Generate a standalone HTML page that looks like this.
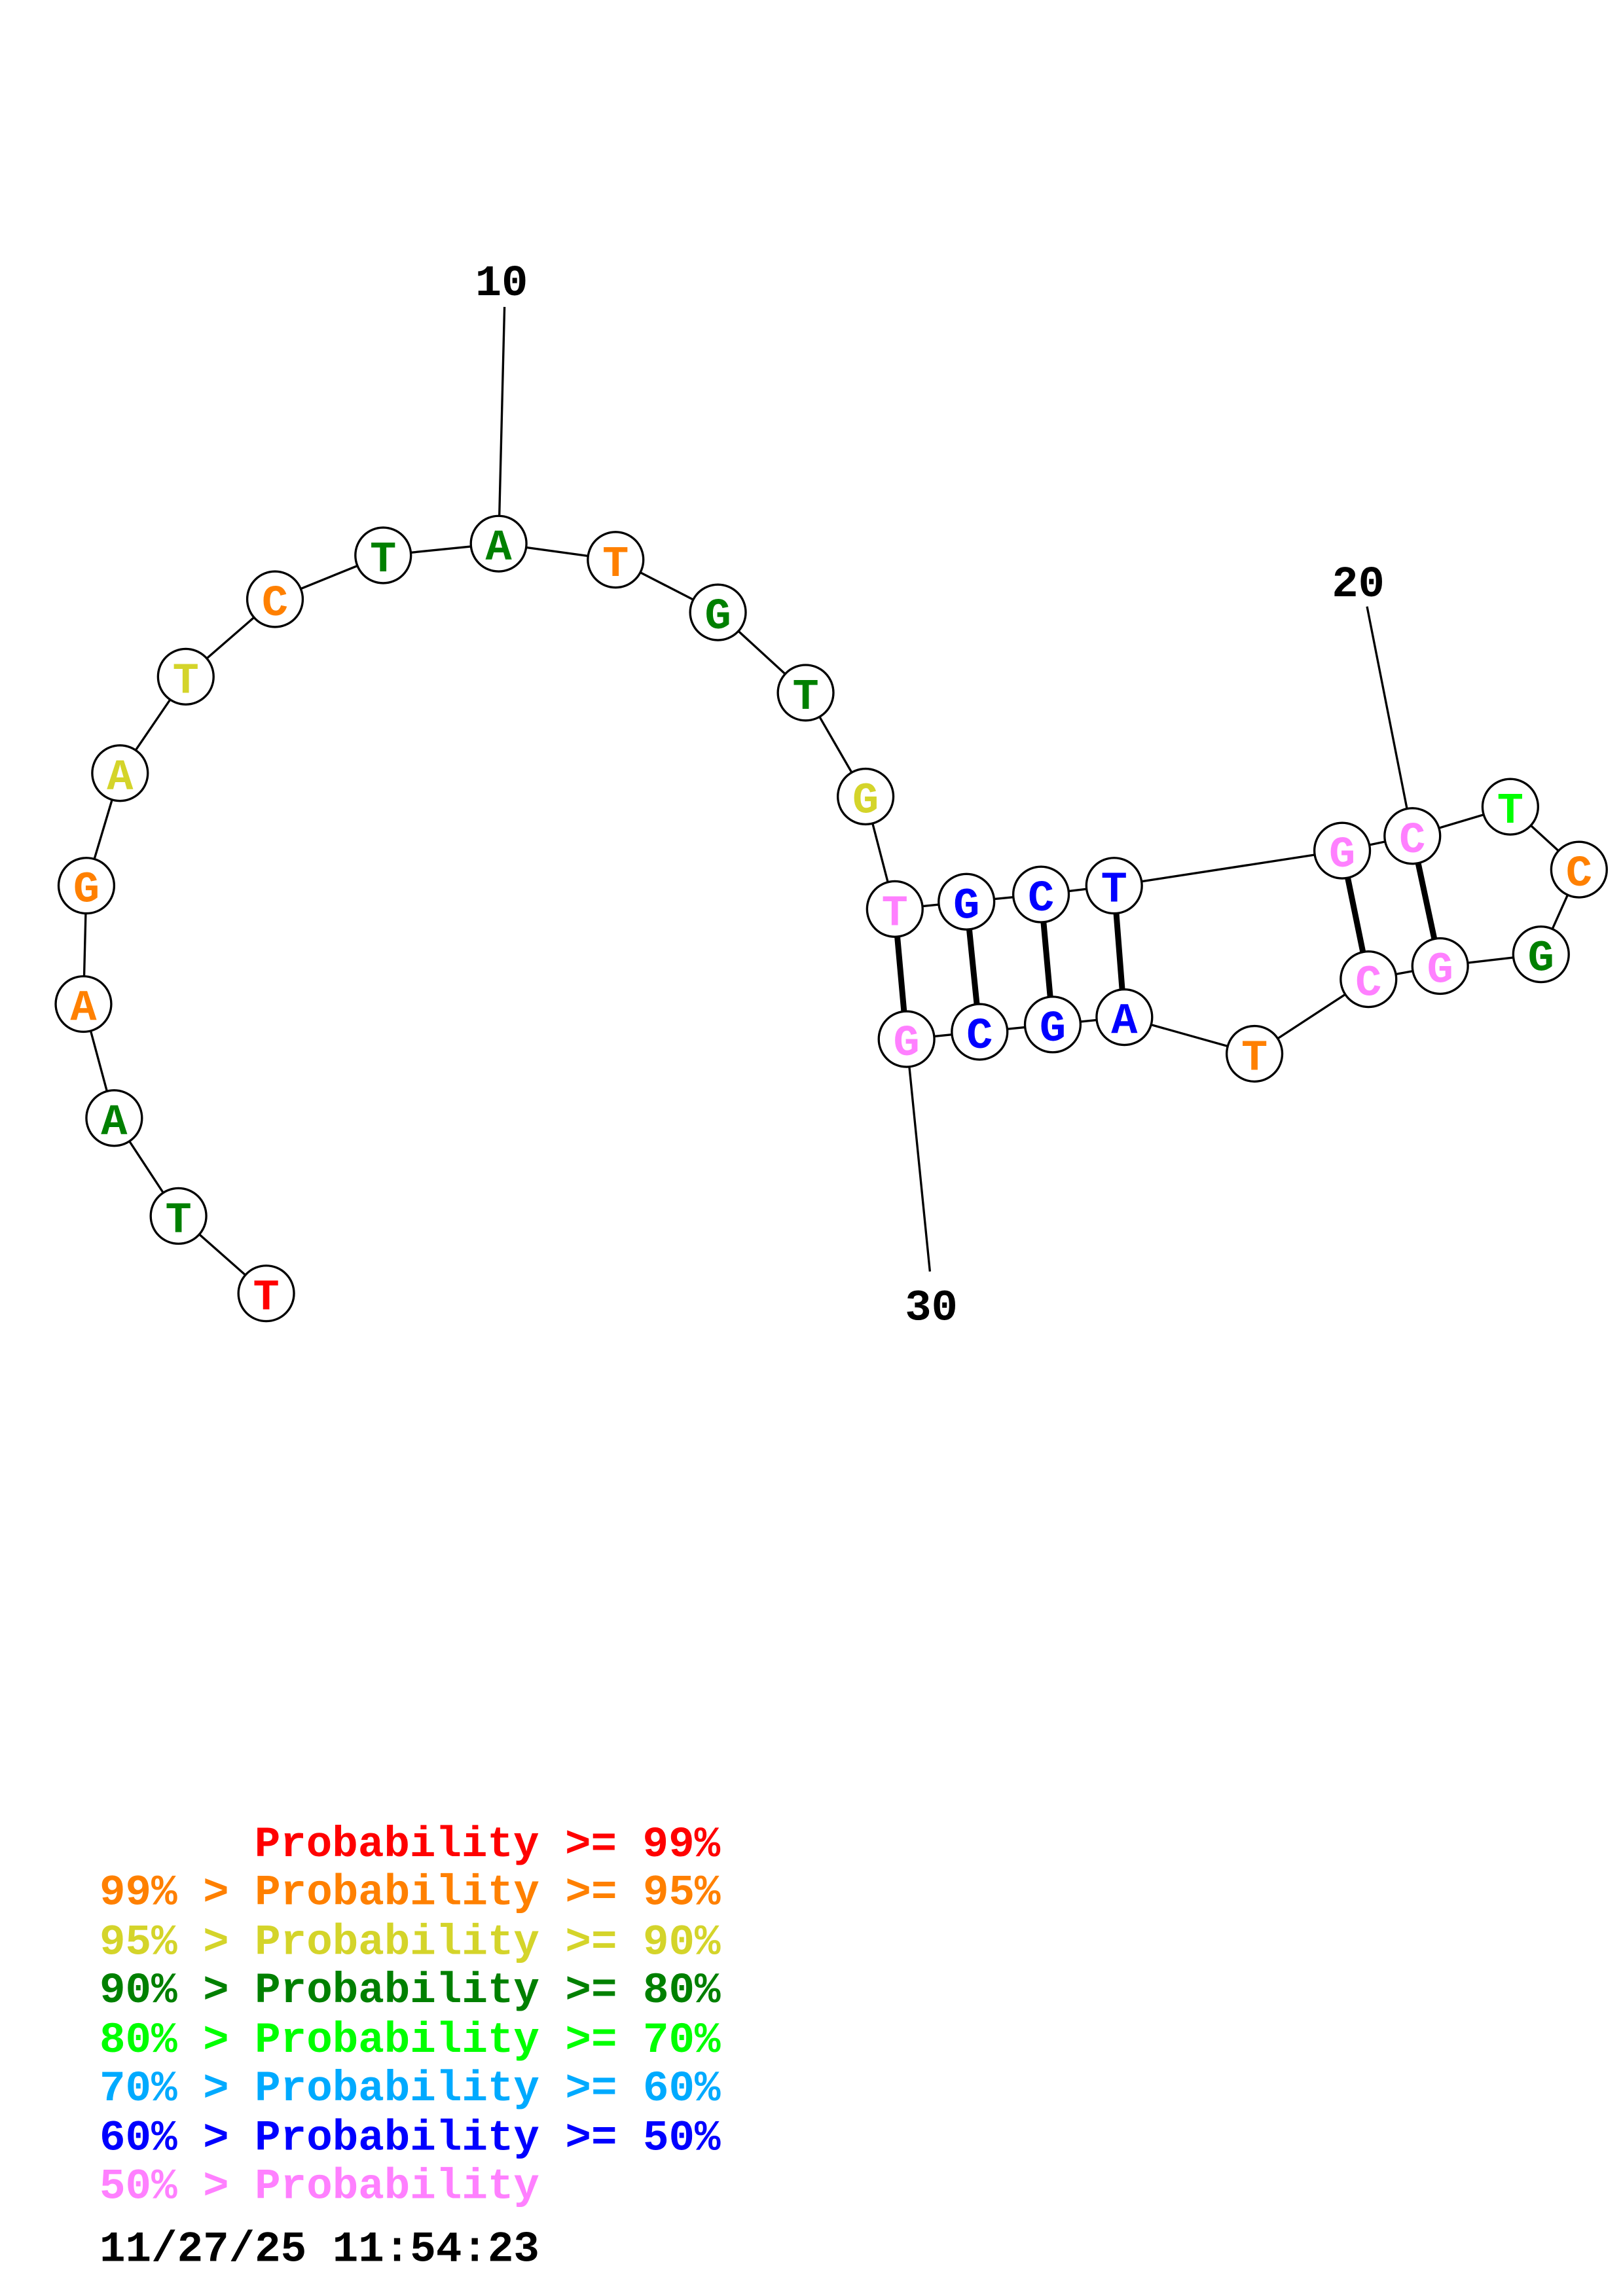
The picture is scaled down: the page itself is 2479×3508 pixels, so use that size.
<!DOCTYPE html>
<html><head><meta charset="utf-8"><style>html,body{margin:0;padding:0;background:#fff}svg{display:block}</style></head><body>
<svg width="2479" height="3508" viewBox="0 0 1110 1571" xmlns="http://www.w3.org/2000/svg">
<rect width="1110" height="1571" fill="#fff"/>
<g stroke="#000" stroke-width="1.5" fill="none">
<polyline points="182,885 122,832 78,765 57,687 59,606 82,529 127,463 188,410 262,380 341,372 421,383 491,419 551,474 592,545 612,622 661,617 712,612 762,606 918,582 966,572 1033,552 1080,595 1054,653 985,661 936,670 858,721 769,696 720,701 670,706 620,711"/>
<line x1="345" y1="210" x2="341" y2="372"/>
<line x1="935" y1="415" x2="966" y2="572"/>
<line x1="620" y1="711" x2="636" y2="870"/>
</g>
<g stroke="#000" stroke-width="4">
<line x1="612" y1="622" x2="620" y2="711"/>
<line x1="661" y1="617" x2="670" y2="706"/>
<line x1="712" y1="612" x2="720" y2="701"/>
<line x1="762" y1="606" x2="769" y2="696"/>
<line x1="918" y1="582" x2="936" y2="670"/>
<line x1="966" y1="572" x2="985" y2="661"/>
</g>
<g stroke="#000" stroke-width="1.5" fill="#fff">
<circle cx="182" cy="885" r="19"/><circle cx="122" cy="832" r="19"/><circle cx="78" cy="765" r="19"/><circle cx="57" cy="687" r="19"/><circle cx="59" cy="606" r="19"/><circle cx="82" cy="529" r="19"/><circle cx="127" cy="463" r="19"/><circle cx="188" cy="410" r="19"/><circle cx="262" cy="380" r="19"/><circle cx="341" cy="372" r="19"/><circle cx="421" cy="383" r="19"/><circle cx="491" cy="419" r="19"/><circle cx="551" cy="474" r="19"/><circle cx="592" cy="545" r="19"/><circle cx="612" cy="622" r="19"/><circle cx="661" cy="617" r="19"/><circle cx="712" cy="612" r="19"/><circle cx="762" cy="606" r="19"/><circle cx="918" cy="582" r="19"/><circle cx="966" cy="572" r="19"/><circle cx="1033" cy="552" r="19"/><circle cx="1080" cy="595" r="19"/><circle cx="1054" cy="653" r="19"/><circle cx="985" cy="661" r="19"/><circle cx="936" cy="670" r="19"/><circle cx="858" cy="721" r="19"/><circle cx="769" cy="696" r="19"/><circle cx="720" cy="701" r="19"/><circle cx="670" cy="706" r="19"/><circle cx="620" cy="711" r="19"/>
</g>
<g font-family="Liberation Mono, monospace" font-weight="bold" font-size="30" text-anchor="middle">
<text x="182" y="896" fill="#ff0000">T</text>
<text x="122" y="843" fill="#008000">T</text>
<text x="78" y="776" fill="#008000">A</text>
<text x="57" y="698" fill="#ff8000">A</text>
<text x="59" y="617" fill="#ff8000">G</text>
<text x="82" y="540" fill="#d4d42a">A</text>
<text x="127" y="474" fill="#d4d42a">T</text>
<text x="188" y="421" fill="#ff8000">C</text>
<text x="262" y="391" fill="#008000">T</text>
<text x="341" y="383" fill="#008000">A</text>
<text x="421" y="394" fill="#ff8000">T</text>
<text x="491" y="430" fill="#008000">G</text>
<text x="551" y="485" fill="#008000">T</text>
<text x="592" y="556" fill="#d4d42a">G</text>
<text x="612" y="633" fill="#ff80ff">T</text>
<text x="661" y="628" fill="#0000ff">G</text>
<text x="712" y="623" fill="#0000ff">C</text>
<text x="762" y="617" fill="#0000ff">T</text>
<text x="918" y="593" fill="#ff80ff">G</text>
<text x="966" y="583" fill="#ff80ff">C</text>
<text x="1033" y="563" fill="#00ff00">T</text>
<text x="1080" y="606" fill="#ff8000">C</text>
<text x="1054" y="664" fill="#008000">G</text>
<text x="985" y="672" fill="#ff80ff">G</text>
<text x="936" y="681" fill="#ff80ff">C</text>
<text x="858" y="732" fill="#ff8000">T</text>
<text x="769" y="707" fill="#0000ff">A</text>
<text x="720" y="712" fill="#0000ff">G</text>
<text x="670" y="717" fill="#0000ff">C</text>
<text x="620" y="722" fill="#ff80ff">G</text>
</g>
<g font-family="Liberation Mono, monospace" font-weight="bold" font-size="30" text-anchor="middle" fill="#000">
<text x="343" y="202">10</text>
<text x="929" y="408">20</text>
<text x="637" y="903">30</text>
</g>
<g font-family="Liberation Mono, monospace" font-weight="bold" font-size="29.5">
<text x="174" y="1270" fill="#ff0000">Probability &gt;= 99%</text>
<text x="68" y="1303" fill="#ff8000">99% &gt; Probability &gt;= 95%</text>
<text x="68" y="1337" fill="#d4d42a">95% &gt; Probability &gt;= 90%</text>
<text x="68" y="1370" fill="#008000">90% &gt; Probability &gt;= 80%</text>
<text x="68" y="1404" fill="#00ff00">80% &gt; Probability &gt;= 70%</text>
<text x="68" y="1437" fill="#00aaff">70% &gt; Probability &gt;= 60%</text>
<text x="68" y="1471" fill="#0000ff">60% &gt; Probability &gt;= 50%</text>
<text x="68" y="1504" fill="#ff80ff">50% &gt; Probability</text>
<text x="68" y="1547" fill="#000">11/27/25 11:54:23</text>
</g>
</svg>
</body></html>
